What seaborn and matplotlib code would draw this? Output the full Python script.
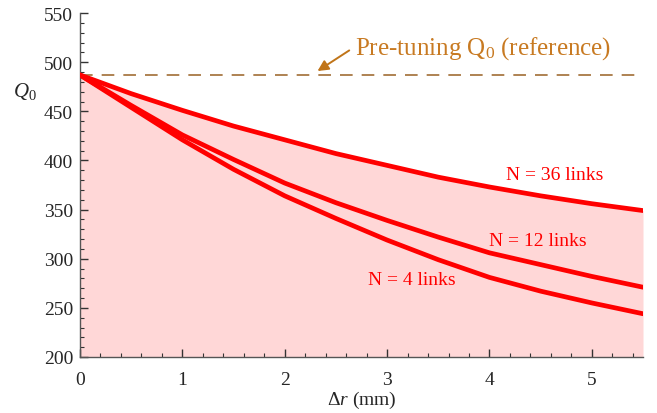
import numpy as np
import pandas as pd
import matplotlib
matplotlib.use("Agg")
import matplotlib.pyplot as plt
from matplotlib.ticker import MultipleLocator
import seaborn as sns

# ---- data ----
dr = [0.0, 0.5, 1.0, 1.5, 2.0, 2.5, 3.0, 3.5, 4.0, 4.5, 5.0, 5.5]
q_n36 = [487, 468, 451, 435, 421, 407, 395, 383, 373, 364, 356, 349]
q_n12 = [487, 456, 426, 401, 377, 357, 339, 322, 306, 294, 282, 271]
q_n4 = [487, 454, 421, 391, 364, 341, 319, 299, 281, 267, 255, 244]
series_names = ["N = 36 links", "N = 12 links", "N = 4 links"]
q_ref = 487
x_ticks = [0, 1, 2, 3, 4, 5]
y_ticks = [200, 250, 300, 350, 400, 450, 500, 550]

sns.set_style("ticks")
plt.rcParams["font.family"] = ["Liberation Serif", "DejaVu Serif"]
plt.rcParams["mathtext.fontset"] = "custom"
plt.rcParams["mathtext.rm"] = "Liberation Serif"
plt.rcParams["mathtext.it"] = "Liberation Serif:italic"

df = pd.DataFrame({
    "dr": dr * 3,
    "Q": q_n36 + q_n12 + q_n4,
    "series": [series_names[0]] * len(dr) + [series_names[1]] * len(dr) + [series_names[2]] * len(dr),
})

fig = plt.figure(figsize=(6.57, 4.14), dpi=100)
ax = fig.add_axes([0.1218, 0.1353, 0.8569, 0.8307])

ax.fill_between(dr, q_n36, 200, color="#FFD7D7", lw=0, zorder=0)
ax.axhline(q_ref, color="#A87844", lw=1.3, dashes=(7, 5), zorder=1)

sns.lineplot(data=df, x="dr", y="Q", hue="series",
             palette=["#FF0000"] * 3, linewidth=3.4, legend=False, ax=ax,
             zorder=3)

ax.set_xlim(0, 5.5)
ax.set_ylim(200, 550)
ax.set_xticks(x_ticks)
ax.set_yticks(y_ticks)
ax.xaxis.set_minor_locator(MultipleLocator(0.2))
ax.yaxis.set_minor_locator(MultipleLocator(10))
ax.tick_params(which="major", direction="in", length=6, width=1, labelsize=14,
               color="#333333", pad=5)
ax.tick_params(axis="x", which="major", pad=10)
ax.tick_params(which="minor", direction="in", length=3, width=0.8, color="#333333")
sns.despine(ax=ax)
for s in ["left", "bottom"]:
    ax.spines[s].set_color("#555555")
    ax.spines[s].set_linewidth(1.0)

ax.set_xlabel(r"$\Delta r$ (mm)", fontsize=14, labelpad=1)
ax.set_ylabel(r"$Q_0$", fontsize=15, rotation=0)
ax.yaxis.set_label_coords(-0.098, 0.745)

red = "#FF0000"
ax.text(4.64, 386, series_names[0], color=red, fontsize=14, ha="center", va="center")
ax.text(4.47, 319, series_names[1], color=red, fontsize=14, ha="center", va="center")
ax.text(3.24, 279, series_names[2], color=red, fontsize=14, ha="center", va="center")

ax.text(2.69, 515, r"Pre-tuning Q$_0$ (reference)", color="#C87A22", fontsize=18,
        ha="left", va="center")
ax.annotate("", xy=(2.32, 491), xytext=(2.63, 512),
            arrowprops=dict(arrowstyle="-|>", color="#C07418", lw=1.4,
                            mutation_scale=16, shrinkA=0, shrinkB=0))

fig.savefig("out.png", dpi=100)
